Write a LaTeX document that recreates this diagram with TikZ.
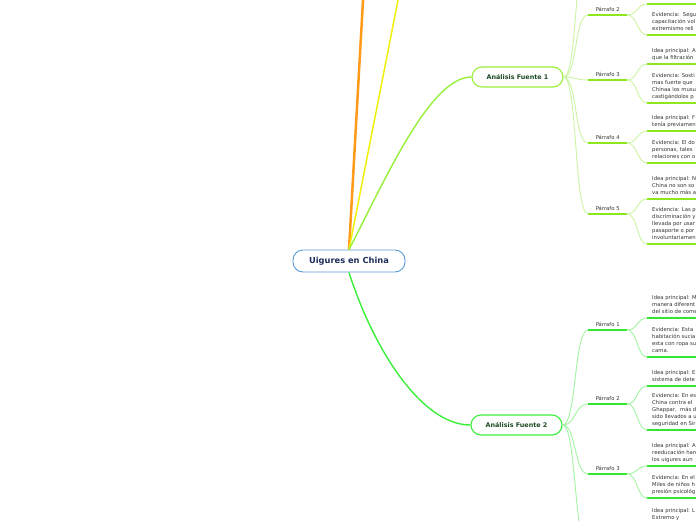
\documentclass[tikz,border=0pt]{standalone}
\usepackage{fontspec}
\setmainfont{DejaVu Sans}

\definecolor{rootblue}{HTML}{5B9BD5}
\definecolor{rootink}{HTML}{1F2D5A}
\definecolor{orangeln}{HTML}{FF9A1A}
\definecolor{yellowln}{HTML}{F0F00A}
\definecolor{limeA}{HTML}{99F03A}
\definecolor{limeApale}{HTML}{CCF5A3}
\definecolor{limeAbar}{HTML}{8BE81C}
\definecolor{greenB}{HTML}{3BF03B}
\definecolor{greenBpale}{HTML}{A3F5A3}
\definecolor{greenBbar}{HTML}{33E633}
\definecolor{srcink}{HTML}{1E4A24}
\definecolor{leafink}{HTML}{333333}

\begin{document}
\begin{tikzpicture}[
  x=1pt, y=-1pt,
  topic/.style={draw=rootblue, line width=0.9pt, rounded corners=10pt, fill=white, text=rootink,
    font=\fontsize{8.3}{9}\selectfont\bfseries, minimum width=112pt, minimum height=22pt, inner sep=0pt},
  src/.style={rounded corners=10pt, fill=white, line width=1.1pt, text=srcink,
    font=\fontsize{6.4}{7.5}\selectfont\bfseries, minimum width=91pt, minimum height=20pt, inner sep=0pt},
  para/.style={anchor=south west, minimum width=39pt, inner xsep=0pt, inner ysep=2pt,
    text depth=1pt, font=\fontsize{5.3}{6}\selectfont, text=leafink},
  leaf/.style={anchor=south west, inner xsep=5pt, inner ysep=3pt,
    text depth=1.5pt, align=left, font=\fontsize{5.3}{7}\selectfont, text=leafink},
  twigA/.style={limeApale, line width=0.9pt},
  twigB/.style={greenBpale, line width=0.9pt},
  barA/.style={limeAbar, line width=2pt},
  barB/.style={greenBbar, line width=2pt}
]
\useasboundingbox (0,0) rectangle (696,520);
\fill[white] (0,0) rectangle (696,520);
\clip (0,0) rectangle (696,520);

\node[topic] (r) at (349,261) {Uigures en China};
\node[src, draw=limeA] (s1) at (517.5,77) {Análisis Fuente 1};
\node[src, draw=greenB] (s2) at (516.5,425) {Análisis Fuente 2};

\coordinate (up1) at (363.3,-5);
\coordinate (up2) at (399,-5);
\coordinate (s1p1) at (588,-50);
\coordinate (s2p4) at (588,548);

\node[para] (s1p2) at (588,15) {Párrafo 2};
\node[para] (s1p3) at (588,80) {Párrafo 3};
\node[para] (s1p4) at (588,143) {Párrafo 4};
\node[para] (s1p5) at (588,214) {Párrafo 5};

\node[leaf] (s1p2a) at (647,4) {};
\node[leaf] (s1p2b) at (647,35) {Evidencia:\ \ Segu\\capacitación vol\\extremismo reli};
\node[leaf] (s1p3a) at (647,64) {Idea principal: A\\que la filtración};
\node[leaf] (s1p3b) at (647,103) {Evidencia: Sosti\\mas fuerte que\\Chinaa los musu\\castigándolos p};
\node[leaf] (s1p4a) at (647,131) {Idea principal: F\\tenía previamen};
\node[leaf] (s1p4b) at (647,163) {Evidencia: El do\\personas, tales\\relaciones con o};
\node[leaf] (s1p5a) at (647,199) {Idea principal: N\\China no son so\\va mucho más a};
\node[leaf] (s1p5b) at (647,244) {Evidencia: Las p\\discriminación y\\llevada por usar\\pasaporte o por\\involuntariamen};

\node[para] (s2p1) at (588,330) {Párrafo 1};
\node[para] (s2p2) at (588,404) {Párrafo 2};
\node[para] (s2p3) at (588,474) {Párrafo 3};

\node[leaf] (s2p1a) at (647,318) {Idea principal: M\\manera diferent\\del sitio de come};
\node[leaf] (s2p1b) at (647,357) {Evidencia: Esta\\habitación sucia\\esta con ropa su\\cama.};
\node[leaf] (s2p2a) at (647,386) {Idea principal: E\\sistema de dete};
\node[leaf] (s2p2b) at (647,430) {Evidencia: En es\\China contra el\\Ghappar,\ \ más d\\sido llevados a u\\seguridad en Sir};
\node[leaf] (s2p3a) at (647,466) {Idea principal: A\\reeducación han\\los uigures aun};
\node[leaf] (s2p3b) at (647,498) {Evidencia: En el\\Miles de niños h\\presión psicológ};
\node[leaf] (s2p4a) at (647,531) {Idea principal: L\\Extremo y\\};

\draw[orangeln, line width=2.5pt] (r.north) -- (up1);
\draw[yellowln, line width=1.5pt] (r.north) -- (up2);
\draw[limeA, line width=1.4pt] (r.north) .. controls (385,180) and (430,77) .. (s1.west);
\draw[greenB, line width=1.4pt] (r.south) .. controls (372,345) and (420,425) .. (s2.west);

\draw[twigA] (s1.east) .. controls +(14,0) and +(-14,0) .. (s1p1);
\foreach \p in {s1p2,s1p3,s1p4,s1p5}
  \draw[twigA] (s1.east) .. controls +(14,0) and +(-14,0) .. (\p.south west);
\foreach \p in {s2p1,s2p2,s2p3}
  \draw[twigB] (s2.east) .. controls +(14,0) and +(-14,0) .. (\p.south west);
\draw[twigB] (s2.east) .. controls +(14,0) and +(-14,0) .. (s2p4);

\foreach \p in {s1p2,s1p3,s1p4,s1p5} {
  \draw[twigA] (\p.south east) .. controls +(10,0) and +(-10,0) .. (\p a.south west);
  \draw[twigA] (\p.south east) .. controls +(10,0) and +(-10,0) .. (\p b.south west);
  \draw[barA] (\p.south west) -- (\p.south east);
  \draw[barA] (\p a.south west) -- ++(60,0);
  \draw[barA] (\p b.south west) -- ++(60,0);
}
\foreach \p in {s2p1,s2p2,s2p3} {
  \draw[twigB] (\p.south east) .. controls +(10,0) and +(-10,0) .. (\p a.south west);
  \draw[twigB] (\p.south east) .. controls +(10,0) and +(-10,0) .. (\p b.south west);
  \draw[barB] (\p.south west) -- (\p.south east);
  \draw[barB] (\p a.south west) -- ++(60,0);
  \draw[barB] (\p b.south west) -- ++(60,0);
}
\end{tikzpicture}
\end{document}
